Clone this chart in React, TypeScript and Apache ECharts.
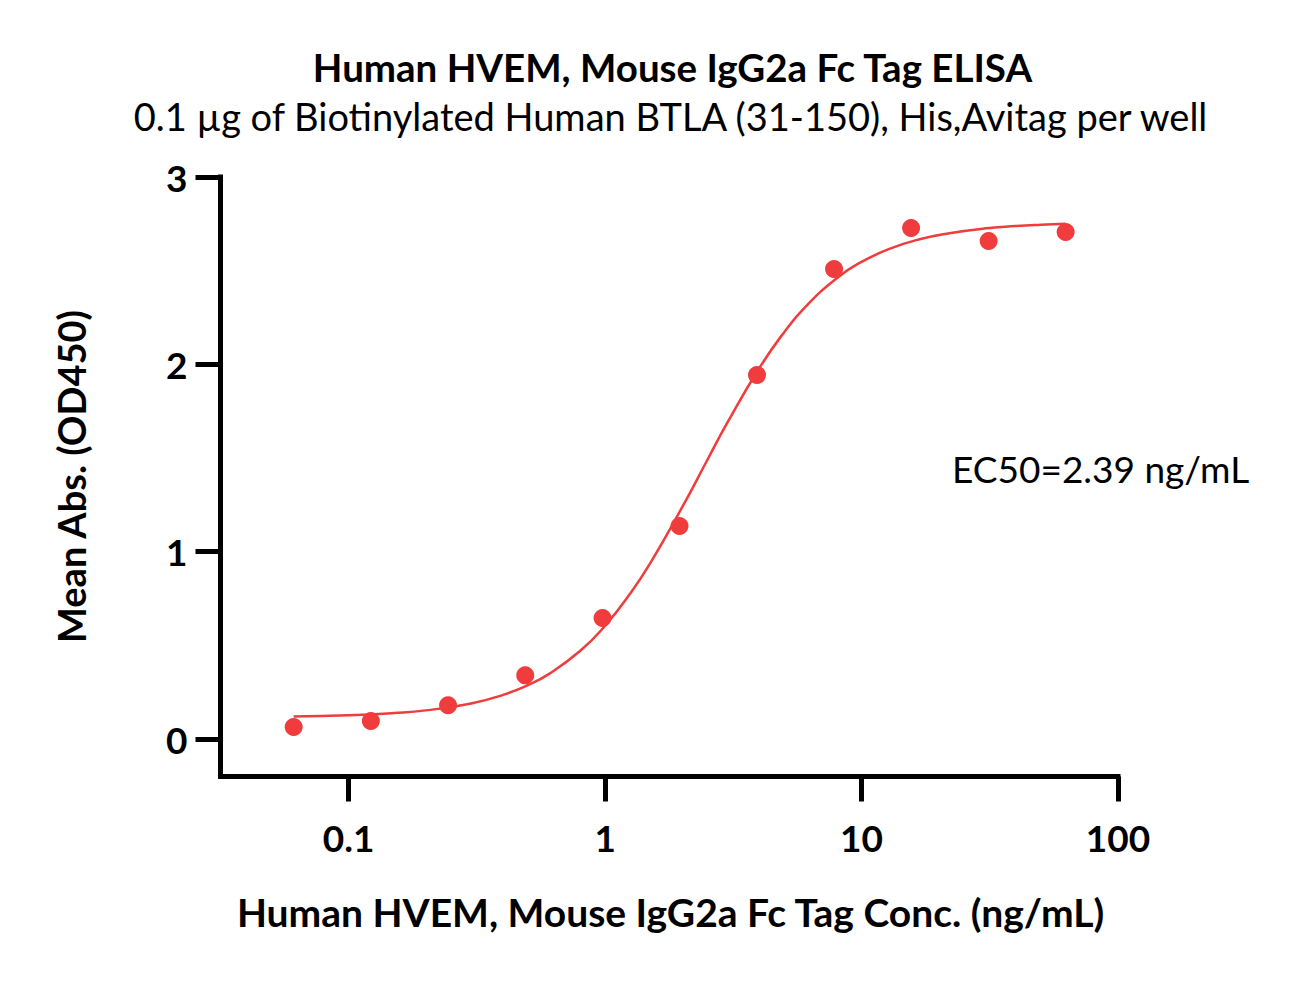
import React, { useEffect, useRef } from "react";
import * as echarts from "echarts";

// Measured data (concentration in ng/mL, mean absorbance OD450)
const concentrations = [0.061, 0.122, 0.244, 0.488, 0.977, 1.95, 3.91, 7.81, 15.6, 31.3, 62.5];
const meanAbs = [0.064, 0.096, 0.18, 0.34, 0.646, 1.137, 1.943, 2.509, 2.728, 2.658, 2.706];

// Fitted curve
const fitX = [0.061, 0.1, 0.15, 0.2, 0.3, 0.4, 0.5, 0.6, 0.8, 1, 1.25, 1.5, 2, 2.5, 3, 4, 5, 6, 8, 10, 13, 17, 22, 30, 40, 50, 62.5];
const fitY = [0.12, 0.127, 0.139, 0.153, 0.19, 0.236, 0.288, 0.345, 0.471, 0.605, 0.775, 0.939, 1.239, 1.488, 1.69, 1.982, 2.173, 2.303, 2.46, 2.547, 2.619, 2.669, 2.7, 2.725, 2.738, 2.745, 2.75];

const xTickValues = [0.1, 1, 10, 100];
const xTickLabels = ["0.1", "1", "10", "100"];
const yTickValues = [0, 1, 2, 3];
const yTickLabels = ["0", "1", "2", "3"];

const titleText = "Human HVEM, Mouse IgG2a Fc Tag ELISA";
const subtitleText = "0.1 µg of Biotinylated Human BTLA (31-150), His,Avitag per well";
const xAxisTitle = "Human HVEM, Mouse IgG2a Fc Tag Conc. (ng/mL)";
const yAxisTitle = "Mean Abs. (OD450)";
const ec50Text = "EC50=2.39 ng/mL";

const RED = "#f03c3c";
const FONT = "Lato";

export default function App() {
  const ref = useRef<HTMLDivElement>(null);

  useEffect(() => {
    if (!ref.current) return;
    const chart = echarts.init(ref.current, null, { renderer: "svg" });

    const pointData = concentrations.map((c, i) => [c, meanAbs[i]]);
    const fitData = fitX.map((c, i) => [c, fitY[i]]);

    const xLabel = (v: number) => {
      let best = 0;
      for (let i = 1; i < xTickValues.length; i++) {
        if (Math.abs(Math.log10(xTickValues[i]) - Math.log10(v)) < Math.abs(Math.log10(xTickValues[best]) - Math.log10(v))) best = i;
      }
      return xTickLabels[best];
    };

    chart.setOption({
      animation: false,
      backgroundColor: "#ffffff",
      grid: { left: 220.5, right: 174, top: 177, bottom: 204.5, containLabel: false },
      xAxis: {
        type: "log",
        logBase: 10,
        min: Math.pow(10, -1.5),
        max: 100,
        axisLine: { show: true, onZero: false, lineStyle: { color: "#000", width: 5, cap: "square" } },
        axisTick: { show: true, length: 25, inside: false, customValues: xTickValues, lineStyle: { color: "#000", width: 5 } },
        axisLabel: {
          show: true,
          customValues: xTickValues,
          margin: 42,
          color: "#000",
          fontFamily: FONT,
          fontWeight: "bold",
          fontSize: 37,
          formatter: (v: number) => xLabel(v),
        },
        splitLine: { show: false },
        minorTick: { show: false },
      },
      yAxis: {
        type: "value",
        min: -0.2,
        max: 3,
        axisLine: { show: true, onZero: false, lineStyle: { color: "#000", width: 5, cap: "square" } },
        axisTick: { show: true, length: 25, inside: false, customValues: yTickValues, lineStyle: { color: "#000", width: 5 } },
        axisLabel: {
          show: true,
          customValues: yTickValues,
          margin: 33,
          color: "#000",
          fontFamily: FONT,
          fontWeight: "bold",
          fontSize: 37,
          formatter: (v: number) => {
            const i = yTickValues.indexOf(Math.round(v));
            return i >= 0 ? yTickLabels[i] : "";
          },
        },
        splitLine: { show: false },
      },
      series: [
        {
          type: "line",
          data: fitData,
          smooth: 0.5,
          showSymbol: false,
          symbol: "none",
          lineStyle: { color: RED, width: 2.5 },
          z: 2,
        },
        {
          type: "scatter",
          data: pointData,
          symbol: "circle",
          symbolSize: 18,
          itemStyle: { color: RED, opacity: 1 },
          z: 3,
        },
      ],
      graphic: [
        {
          type: "text",
          x: 672.5,
          y: 67,
          style: {
            text: titleText,
            font: `bold 38.5px ${FONT}`,
            fill: "#000",
            align: "center",
            verticalAlign: "middle",
            textAlign: "center",
            textVerticalAlign: "middle",
          },
        },
        {
          type: "text",
          x: 670.5,
          y: 116,
          style: {
            text: subtitleText,
            font: `38px ${FONT}`,
            fill: "#000",
            align: "center",
            verticalAlign: "middle",
            textAlign: "center",
            textVerticalAlign: "middle",
          },
        },
        {
          type: "text",
          x: 670.5,
          y: 912,
          style: {
            text: xAxisTitle,
            font: `bold 39px ${FONT}`,
            fill: "#000",
            align: "center",
            verticalAlign: "middle",
            textAlign: "center",
            textVerticalAlign: "middle",
          },
        },
        {
          type: "text",
          x: 71,
          y: 476.5,
          rotation: Math.PI / 2,
          style: {
            text: yAxisTitle,
            font: `bold 38px ${FONT}`,
            fill: "#000",
            align: "center",
            verticalAlign: "middle",
            textAlign: "center",
            textVerticalAlign: "middle",
          },
        },
        {
          type: "text",
          x: 952,
          y: 468,
          style: {
            text: ec50Text,
            font: `37px ${FONT}`,
            fill: "#000",
            align: "left",
            verticalAlign: "middle",
            textAlign: "left",
            textVerticalAlign: "middle",
          },
        },
      ],
    });

    return () => chart.dispose();
  }, []);

  return (
    <div
      ref={ref}
      style={{ position: "fixed", left: 0, top: 0, width: 1292, height: 981, background: "#fff" }}
    />
  );
}
